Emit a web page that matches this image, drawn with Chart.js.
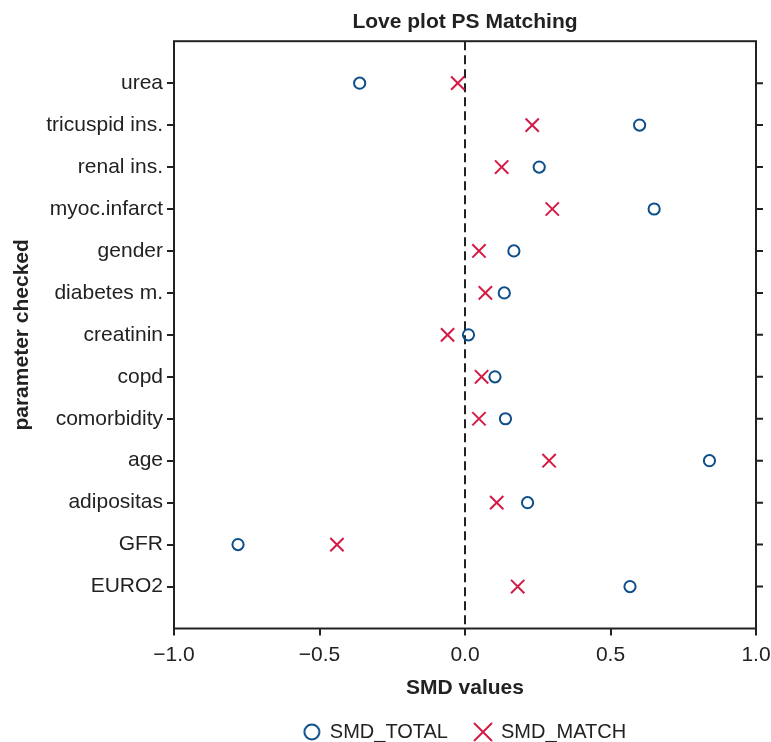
<!DOCTYPE html>
<html>
<head>
<meta charset="utf-8">
<script src="https://cdn.jsdelivr.net/npm/chart.js@4/dist/chart.umd.min.js"></script>
<style>
html, body { margin: 0; padding: 0; background: #ffffff; }
#wrap { width: 771px; height: 742px; }
</style>
</head>
<body>
<div id="wrap"><canvas id="c" width="771" height="742"></canvas></div>
<script>
// ---- data ----
const categories = ['urea', 'tricuspid ins.', 'renal ins.', 'myoc.infarct', 'gender', 'diabetes m.',
  'creatinin', 'copd', 'comorbidity', 'age', 'adipositas', 'GFR', 'EURO2'];
const smdTotal = [-0.362, 0.600, 0.255, 0.650, 0.168, 0.135, 0.012, 0.103, 0.139, 0.840, 0.215, -0.780, 0.567];
const smdMatch = [-0.025, 0.231, 0.126, 0.300, 0.048, 0.070, -0.060, 0.057, 0.048, 0.289, 0.109, -0.440, 0.181];
const xTickValues = [-1.0, -0.5, 0.0, 0.5, 1.0];
const referenceLine = 0;
const seriesNames = ['SMD_TOTAL', 'SMD_MATCH'];
const chartTitle = 'Love plot PS Matching';
const xTitle = 'SMD values';
const yTitle = 'parameter checked';

// ---- styles ----
const BLUE = '#0d4f8b';
const RED = '#d41b45';
const INK = '#222222';
const FONT = '"Liberation Sans", Arial, Helvetica, sans-serif';

function toPoints(values) {
  return values.map((v, i) => ({ x: v, y: i }));
}

function markerCanvas(kind) {
  const c = document.createElement('canvas');
  c.width = 22; c.height = 22;
  const g = c.getContext('2d');
  g.lineWidth = 2;
  if (kind === 'circle') {
    g.strokeStyle = BLUE;
    g.beginPath(); g.arc(11, 11, 7.5, 0, Math.PI * 2); g.stroke();
  } else {
    g.strokeStyle = RED;
    g.beginPath();
    g.moveTo(2, 2); g.lineTo(20, 20);
    g.moveTo(20, 2); g.lineTo(2, 20);
    g.stroke();
  }
  return c;
}
const legendMarks = [markerCanvas('circle'), markerCanvas('cross')];

const framePlugin = {
  id: 'frame',
  beforeDatasetsDraw(chart) {
    const { ctx, chartArea: a, scales: { x } } = chart;
    const px = x.getPixelForValue(referenceLine);
    ctx.save();
    ctx.strokeStyle = INK;
    ctx.lineWidth = 2;
    ctx.setLineDash([9, 5]);
    ctx.beginPath();
    ctx.moveTo(px, a.top);
    ctx.lineTo(px, a.bottom);
    ctx.stroke();
    ctx.restore();
  },
  afterDraw(chart) {
    const { ctx, chartArea: a, scales: { y } } = chart;
    ctx.save();
    ctx.strokeStyle = INK;
    ctx.lineWidth = 2;
    ctx.strokeRect(a.left, a.top, a.right - a.left, a.bottom - a.top);
    ctx.beginPath();
    y.ticks.forEach(t => {
      const py = y.getPixelForValue(t.value);
      ctx.moveTo(a.right, py);
      ctx.lineTo(a.right + 7, py);
    });
    ctx.stroke();
    ctx.restore();
  }
};

new Chart(document.getElementById('c'), {
  type: 'scatter',
  data: {
    datasets: [
      {
        label: seriesNames[0],
        data: toPoints(smdTotal),
        pointStyle: 'circle',
        pointRadius: 5.6,
        pointHoverRadius: 5.6,
        borderWidth: 2,
        borderColor: BLUE,
        backgroundColor: 'rgba(0,0,0,0)'
      },
      {
        label: seriesNames[1],
        data: toPoints(smdMatch),
        pointStyle: 'crossRot',
        pointRadius: 9.4,
        pointHoverRadius: 9.4,
        borderWidth: 2,
        borderColor: RED,
        backgroundColor: RED
      }
    ]
  },
  options: {
    responsive: false,
    animation: false,
    events: [],
    layout: { padding: { top: 0, right: 15, bottom: -10, left: 0 } },
    scales: {
      x: {
        type: 'linear',
        min: -1,
        max: 1,
        afterBuildTicks: (s) => { s.ticks = xTickValues.map(v => ({ value: v })); },
        afterFit: (s) => { s.height = 66.5; s.paddingRight = 0; s.paddingLeft = 0; },
        ticks: {
          callback: (v) => (v < 0 ? '\u2212' : '') + Math.abs(v).toFixed(1),
          color: INK,
          font: { family: FONT, size: 21 },
          padding: 7,
          maxRotation: 0
        },
        grid: { drawOnChartArea: false, drawTicks: true, tickLength: 7, lineWidth: 2, color: INK },
        border: { display: false },
        title: {
          display: true,
          text: xTitle,
          color: INK,
          font: { family: FONT, size: 21, weight: 'bold' },
          padding: { top: 4, bottom: -6 }
        }
      },
      y: {
        type: 'linear',
        reverse: true,
        min: -1,
        max: categories.length,
        afterBuildTicks: (s) => { s.ticks = categories.map((_, i) => ({ value: i })); },
        afterFit: (s) => { s.width = 174; },
        ticks: {
          callback: (v) => categories[v],
          color: INK,
          font: { family: FONT, size: 21 },
          padding: 4
        },
        grid: { drawOnChartArea: false, drawTicks: true, tickLength: 7, lineWidth: 2, color: INK },
        border: { display: false },
        title: {
          display: true,
          text: yTitle,
          color: INK,
          font: { family: FONT, size: 21, weight: 'bold' },
          padding: { top: 9.4, bottom: 4 }
        }
      }
    },
    plugins: {
      tooltip: { enabled: false },
      title: {
        display: true,
        text: chartTitle,
        position: 'top',
        fullSize: false,
        color: INK,
        font: { family: FONT, size: 21, weight: 'bold' },
        padding: { top: 10, bottom: 6 }
      },
      legend: {
        display: true,
        position: 'bottom',
        fullSize: false,
        align: 'center',
        labels: {
          usePointStyle: true,
          pointStyleWidth: 16,
          padding: 27,
          color: INK,
          font: { family: FONT, size: 20 },
          generateLabels: (chart) => chart.data.datasets.map((ds, i) => ({
            text: ds.label,
            pointStyle: legendMarks[i],
            fillStyle: 'rgba(0,0,0,0)',
            strokeStyle: ds.borderColor,
            fontColor: INK,
            lineWidth: 0,
            hidden: false,
            datasetIndex: i
          }))
        }
      }
    }
  },
  plugins: [framePlugin]
});
</script>
</body>
</html>
